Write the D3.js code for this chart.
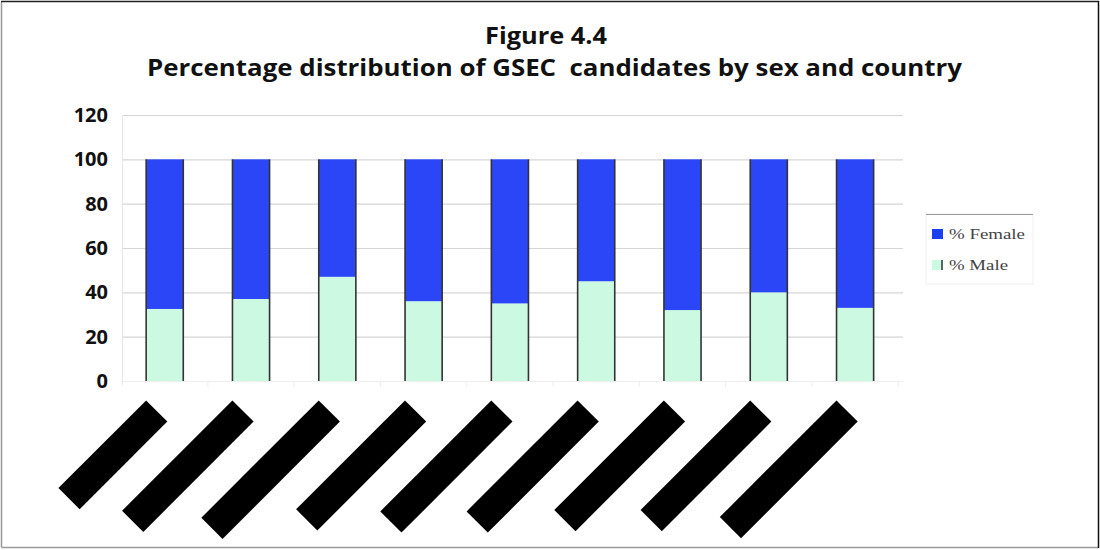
<!DOCTYPE html>
<html>
<head>
<meta charset="utf-8">
<script src="https://cdn.jsdelivr.net/npm/d3@7"></script>
<style>
  html, body { margin: 0; padding: 0; background: #fff; }
  svg { display: block; }
  text { white-space: pre; }
</style>
</head>
<body>
<svg id="chart" width="1100" height="550"></svg>
<script>
// Country slots (names are masked on the axis)
const countries = ["c1", "c2", "c3", "c4", "c5", "c6", "c7", "c8", "c9"];
// Percentage of male candidates per country; female share is the remainder
const pctMale = [32.5, 37, 47, 36, 35, 45, 32, 40, 33];
const pctFemale = pctMale.map(m => 100 - m);
const yTicks = [0, 20, 40, 60, 80, 100, 120];
const seriesNames = ["% Female", "% Male"];

const titleLines = ["Figure 4.4", "Percentage distribution of GSEC  candidates by sex and country"];

// Masking block lengths along the rotated label direction
const maskLen = [124, 156, 166, 154, 157, 157, 155, 155, 165];

const svg = d3.select("#chart");
const colFemale = "#2a46f6";
const colMale = "#cbf9e1";
const sansBold = "'Open Sans', 'DejaVu Sans', sans-serif";

// frame
svg.append("line").attr("x1", 1.5).attr("y1", 1.5).attr("x2", 1.5).attr("y2", 547.5).attr("stroke", "#999").attr("stroke-width", 1.5);
svg.append("line").attr("x1", 1.5).attr("y1", 547.5).attr("x2", 1098.5).attr("y2", 547.5).attr("stroke", "#999").attr("stroke-width", 1.5);
svg.append("line").attr("x1", 1).attr("y1", 1.5).attr("x2", 1099).attr("y2", 1.5).attr("stroke", "#222").attr("stroke-width", 1.5);
svg.append("line").attr("x1", 1098.5).attr("y1", 1).attr("x2", 1098.5).attr("y2", 548).attr("stroke", "#111").attr("stroke-width", 1.5);

// title (condensed face emulated by fitting each line to its width)
const titleFit = [{ cx: 546, base: 44, len: 122 }, { cx: 554.5, base: 76, len: 815 }];
svg.append("g").selectAll("text").data(titleLines).join("text")
  .attr("x", (d, i) => titleFit[i].cx).attr("y", (d, i) => titleFit[i].base)
  .attr("text-anchor", "middle")
  .attr("font-family", sansBold).attr("font-weight", 700)
  .attr("font-size", 24).attr("fill", "#111")
  .attr("textLength", (d, i) => titleFit[i].len)
  .attr("lengthAdjust", "spacingAndGlyphs")
  .text(d => d);

const left = 122, right = 903;
const x = d3.scaleBand().domain(countries).range([left, left + 9 * 86.2]).paddingInner(0.57).paddingOuter(0.28);
const y = d3.scaleLinear().domain([0, 120]).range([381, 115]);

// gridlines
svg.append("g").selectAll("line").data(yTicks).join("line")
  .attr("x1", left).attr("x2", right)
  .attr("y1", d => y(d) + 0.5).attr("y2", d => y(d) + 0.5)
  .attr("stroke", d => d === 0 ? "#eee" : "#d6d6d6").attr("stroke-width", 1.2);
svg.append("line").attr("x1", left + 0.5).attr("x2", left + 0.5).attr("y1", y(120)).attr("y2", y(0) + 4)
  .attr("stroke", "#e6e6e6");
// small faint ticks between categories on the baseline
svg.append("g").selectAll("line").data(countries).join("line")
  .attr("x1", d => x(d) + x.bandwidth() + x.step() * x.paddingInner() / 2)
  .attr("x2", d => x(d) + x.bandwidth() + x.step() * x.paddingInner() / 2)
  .attr("y1", y(0)).attr("y2", y(0) + 6).attr("stroke", "#eee");

// y axis labels
const yAxis = d3.axisLeft(y).tickValues(yTicks).tickSize(0).tickPadding(14);
const gy = svg.append("g").attr("transform", `translate(${left},0)`).call(yAxis);
gy.select(".domain").remove();
gy.selectAll("text").attr("font-family", sansBold).attr("font-weight", 700)
  .attr("font-size", 20).attr("fill", "#111");

// stacked bars
const stack = d3.stack().keys(["male", "female"]);
const rows = countries.map((c, i) => ({ c, male: pctMale[i], female: pctFemale[i] }));
const layers = stack(rows);
const colors = { male: colMale, female: colFemale };
svg.append("g").selectAll("g").data(layers).join("g")
  .attr("fill", d => colors[d.key])
  .selectAll("rect").data(d => d).join("rect")
  .attr("x", d => x(d.data.c))
  .attr("y", d => y(d[1]))
  .attr("width", x.bandwidth())
  .attr("height", d => y(d[0]) - y(d[1]));
// dark side edges of the bars
const edges = svg.append("g").attr("stroke", "#333").attr("stroke-width", 1.6);
countries.forEach((c) => {
  [x(c), x(c) + x.bandwidth()].forEach(xx => {
    edges.append("line").attr("x1", xx).attr("x2", xx).attr("y1", y(100)).attr("y2", y(0));
  });
});

// masked category labels: black rotated blocks
svg.append("g").selectAll("rect").data(countries).join("rect")
  .attr("transform", (d) => `translate(${x(d) + x.bandwidth() / 2 - 8},411) rotate(-45)`)
  .attr("x", (d, i) => -maskLen[i]).attr("y", -15)
  .attr("width", (d, i) => maskLen[i]).attr("height", 30)
  .attr("fill", "#000");

// legend
const lg = svg.append("g").attr("transform", "translate(926,214)");
lg.append("rect").attr("x", 0).attr("y", 0).attr("width", 107).attr("height", 70)
  .attr("fill", "#fff").attr("stroke", "#f0f0f0");
lg.append("line").attr("x1", 0).attr("x2", 107).attr("y1", 0.5).attr("y2", 0.5).attr("stroke", "#999");
const items = lg.selectAll("g").data(seriesNames).join("g")
  .attr("transform", (d, i) => `translate(6,${15 + i * 31})`);
items.append("rect").attr("width", 11).attr("height", 10)
  .attr("fill", (d, i) => i === 0 ? "#1c3ff0" : colMale);
items.filter((d, i) => i === 1).append("line")
  .attr("x1", 10).attr("x2", 10).attr("y1", 0).attr("y2", 10).attr("stroke", "#333").attr("stroke-width", 1.5);
items.append("text").attr("x", 17).attr("y", 10)
  .attr("font-family", "'Liberation Serif', 'DejaVu Serif', serif")
  .attr("font-size", 15).attr("fill", "#444")
  .attr("textLength", (d, i) => i === 0 ? 76 : 59)
  .attr("lengthAdjust", "spacingAndGlyphs")
  .text(d => d);
</script>
</body>
</html>
